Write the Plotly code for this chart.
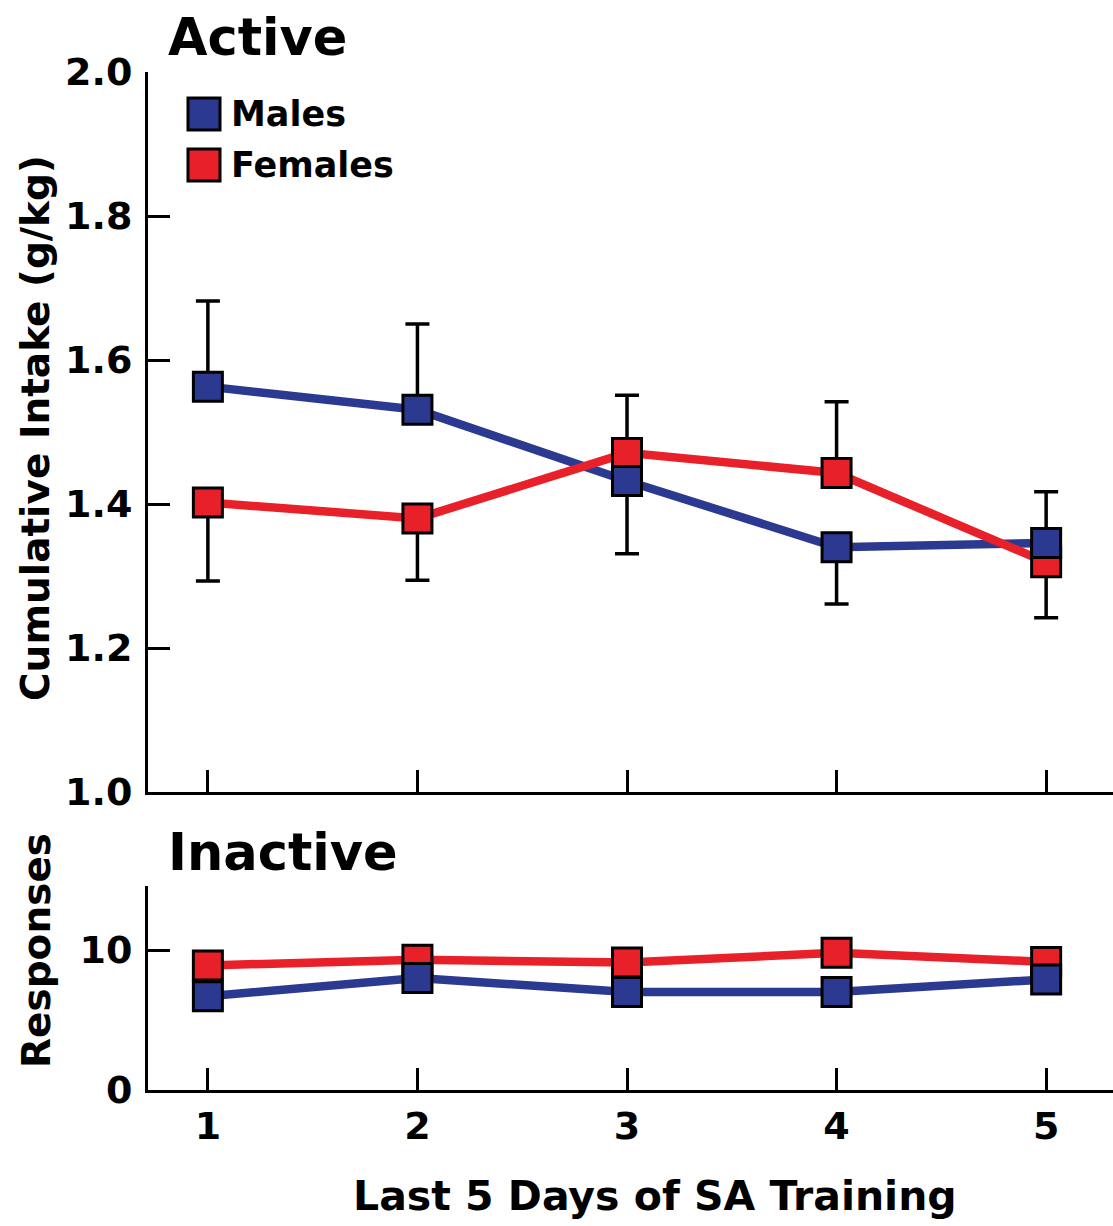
import plotly.graph_objects as go

# ---------------- data ----------------
days = [1, 2, 3, 4, 5]
day_labels = ["1", "2", "3", "4", "5"]

males_active = [1.563, 1.531, 1.432, 1.340, 1.346]
males_active_err_plus = [0.119, 0.119, 0.0, 0.0, 0.071]
males_active_err_minus = [0.0, 0.0, 0.101, 0.079, 0.0]

females_active = [1.402, 1.380, 1.471, 1.443, 1.319]
females_active_err_plus = [0.0, 0.0, 0.080, 0.099, 0.0]
females_active_err_minus = [0.109, 0.086, 0.0, 0.0, 0.077]

males_inactive = [6.7, 8.0, 7.0, 7.0, 7.9]
females_inactive = [8.9, 9.3, 9.1, 9.8, 9.15]

active_ticks = [1.0, 1.2, 1.4, 1.6, 1.8, 2.0]
active_tick_labels = ["1.0", "1.2", "1.4", "1.6", "1.8", "2.0"]
inactive_ticks = [0, 10]
inactive_tick_labels = ["0", "10"]

# ---------------- style ----------------
BLUE = "#2B3990"
RED = "#E8202A"
FONT = "DejaVu Sans"
W, H = 1113, 1226
ML, MR, MT, MB = 148, 0, 72, 136
PW, PH = W - ML - MR, H - MT - MB
MSIZE = 29


def px_x(px):
    return (px - ML) / PW


def px_y(py):
    return (H - MB - py) / PH


fig = go.Figure()

# lines (blue then red so red line is over blue at crossing)
for yv, col in [(males_active, BLUE), (females_active, RED)]:
    fig.add_trace(go.Scatter(x=days, y=yv, mode="lines",
                             line=dict(color=col, width=8.5),
                             showlegend=False, hoverinfo="skip",
                             xaxis="x", yaxis="y"))
for yv, col in [(males_inactive, BLUE), (females_inactive, RED)]:
    fig.add_trace(go.Scatter(x=days, y=yv, mode="lines",
                             line=dict(color=col, width=8.5),
                             showlegend=False, hoverinfo="skip",
                             xaxis="x2", yaxis="y2"))

# markers with one-sided error bars (red first, blue on top)
fig.add_trace(go.Scatter(
    x=days, y=females_active, mode="markers", name="Females",
    marker=dict(symbol="square", size=MSIZE, color=RED,
                line=dict(color="black", width=3)),
    error_y=dict(type="data", symmetric=False,
                 array=females_active_err_plus,
                 arrayminus=females_active_err_minus,
                 color="black", thickness=3.5, width=12),
    showlegend=False, xaxis="x", yaxis="y"))
fig.add_trace(go.Scatter(
    x=days, y=males_active, mode="markers", name="Males",
    marker=dict(symbol="square", size=MSIZE, color=BLUE,
                line=dict(color="black", width=3)),
    error_y=dict(type="data", symmetric=False,
                 array=males_active_err_plus,
                 arrayminus=males_active_err_minus,
                 color="black", thickness=3.5, width=12),
    showlegend=False, xaxis="x", yaxis="y"))
fig.add_trace(go.Scatter(
    x=days, y=females_inactive, mode="markers", name="Females",
    marker=dict(symbol="square", size=MSIZE, color=RED,
                line=dict(color="black", width=3)),
    showlegend=False, xaxis="x2", yaxis="y2"))
fig.add_trace(go.Scatter(
    x=days, y=males_inactive, mode="markers", name="Males",
    marker=dict(symbol="square", size=MSIZE, color=BLUE,
                line=dict(color="black", width=3)),
    showlegend=False, xaxis="x2", yaxis="y2"))

tickfont = dict(family=FONT, size=38, color="black", weight="bold")
xrange = [1 - 60 / 210, 5 + 67 / 210]

axis_common = dict(showline=True, linecolor="black", linewidth=3,
                   ticks="inside", ticklen=22, tickwidth=3, tickcolor="black",
                   showgrid=False, zeroline=False, tickfont=tickfont)

top_dom = [px_y(792), 1.0]
bot_dom = [0.0, px_y(886)]

fig.update_layout(
    width=W, height=H,
    margin=dict(l=ML, r=MR, t=MT, b=MB),
    paper_bgcolor="white", plot_bgcolor="white",
    showlegend=False,
    xaxis=dict(axis_common, range=xrange, domain=[0, 1], anchor="y",
               tickvals=days, showticklabels=False),
    yaxis=dict(axis_common, range=[1.0, 2.0], domain=top_dom, anchor="x",
               tickvals=active_ticks, ticktext=active_tick_labels,
               ticklabelstandoff=5),
    xaxis2=dict(axis_common, range=xrange, domain=[0, 1], anchor="y2",
                tickvals=days, ticktext=day_labels, ticklabelstandoff=0),
    yaxis2=dict(axis_common, range=[0, (1090 - 886) / 14], domain=bot_dom,
                anchor="x2", tickvals=inactive_ticks,
                ticktext=inactive_tick_labels, ticklabelstandoff=5),
)

# titles / labels
ann_font = dict(family=FONT, color="black", weight="bold")
fig.add_annotation(text="Active", xref="paper", yref="paper",
                   x=px_x(166), y=px_y(37), xanchor="left", yanchor="middle",
                   showarrow=False, font=dict(ann_font, size=51))
fig.add_annotation(text="Inactive", xref="paper", yref="paper",
                   x=px_x(166), y=px_y(852), xanchor="left", yanchor="middle",
                   showarrow=False, font=dict(ann_font, size=51))
fig.add_annotation(text="Cumulative Intake (g/kg)", xref="paper", yref="paper",
                   x=px_x(36), y=px_y(428), xanchor="center", yanchor="middle",
                   textangle=-90, showarrow=False, font=dict(ann_font, size=39))
fig.add_annotation(text="Responses", xref="paper", yref="paper",
                   x=px_x(36), y=px_y(951), xanchor="center", yanchor="middle",
                   textangle=-90, showarrow=False, font=dict(ann_font, size=39))
fig.add_annotation(text="Last 5 Days of SA Training", xref="paper", yref="paper",
                   x=px_x(655), y=px_y(1196), xanchor="center", yanchor="middle",
                   showarrow=False, font=dict(ann_font, size=41))

# legend (manual, large squares)
legend_items = [("Males", BLUE, 114), ("Females", RED, 165)]
for label, col, cy in legend_items:
    fig.add_shape(type="rect", xref="paper", yref="paper",
                  x0=px_x(188), x1=px_x(220), y0=px_y(cy + 16), y1=px_y(cy - 16),
                  fillcolor=col, line=dict(color="black", width=3))
    fig.add_annotation(text=label, xref="paper", yref="paper",
                       x=px_x(229), y=px_y(cy), xanchor="left", yanchor="middle",
                       showarrow=False, font=dict(ann_font, size=35))

fig.write_html("out.html",
               config={"displayModeBar": False},
               post_script="document.body.style.margin='0px';"
                           "document.body.style.overflow='hidden';")
